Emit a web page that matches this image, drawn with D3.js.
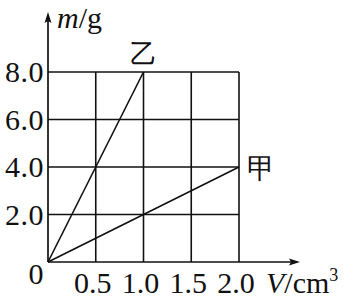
<!DOCTYPE html>
<html>
<head>
<meta charset="utf-8">
<script src="https://cdn.jsdelivr.net/npm/d3@7"></script>
<style>
  body { margin: 0; background: #fff; }
  text { font-family: "Liberation Serif", "Times New Roman", serif; fill: #111; }
</style>
</head>
<body>
<svg id="chart" width="350" height="299"></svg>
<script>
// chart data
var xTicks = [0.5, 1.0, 1.5, 2.0];
var yTicks = [2, 4, 6, 8];
var xTickLabels = ['0.5', '1.0', '1.5', '2.0'];
var yTickLabels = ['2.0', '4.0', '6.0', '8.0'];
var seriesNames = ['甲', '乙'];
var jia = [[0, 0], [2.0, 4.0]];   // V (cm3), m (g)
var yi = [[0, 0], [1.0, 8.0]];

(function () {
  'use strict';
  var svg = d3.select('#chart');
  var x = d3.scaleLinear().domain([0, 2]).range([48, 239]);
  var y = d3.scaleLinear().domain([0, 8]).range([262, 72]);
  var ink = '#111';

  // grid
  svg.selectAll('line.vg').data(xTicks).enter().append('line')
    .attr('x1', function (d) { return x(d); })
    .attr('x2', function (d) { return x(d); })
    .attr('y1', y(0)).attr('y2', y(8))
    .attr('stroke', ink).attr('stroke-width', 1.6);
  svg.selectAll('line.hg').data(yTicks).enter().append('line')
    .attr('y1', function (d) { return y(d); })
    .attr('y2', function (d) { return y(d); })
    .attr('x1', x(0)).attr('x2', x(2))
    .attr('stroke', ink).attr('stroke-width', 1.6);

  // axes with arrows
  svg.append('line').attr('x1', x(0)).attr('x2', x(0))
    .attr('y1', y(0)).attr('y2', 16).attr('stroke', ink).attr('stroke-width', 1.7);
  svg.append('path').attr('d', 'M' + x(0) + ',12 l-3.5,11 l3.5,-2 l3.5,2 z').attr('fill', ink);
  svg.append('line').attr('x1', x(0)).attr('x2', 296)
    .attr('y1', y(0)).attr('y2', y(0)).attr('stroke', ink).attr('stroke-width', 1.7);
  svg.append('path').attr('d', 'M300,' + y(0) + ' l-11,-3.5 l2,3.5 l-2,3.5 z').attr('fill', ink);

  // lines
  var line = d3.line().x(function (d) { return x(d[0]); }).y(function (d) { return y(d[1]); });
  [jia, yi].forEach(function (s) {
    svg.append('path').attr('d', line(s)).attr('fill', 'none')
      .attr('stroke', ink).attr('stroke-width', 1.6);
  });

  // tick labels
  svg.selectAll('text.yt').data(yTicks).enter().append('text')
    .attr('x', 44).attr('y', function (d) { return y(d) + 10; })
    .attr('text-anchor', 'end').attr('font-size', 30).attr('letter-spacing', 0.5)
    .text(function (d, i) { return yTickLabels[i]; });
  svg.selectAll('text.xt').data(xTicks).enter().append('text')
    .attr('x', function (d) { return x(d) - 3; }).attr('y', 293)
    .attr('text-anchor', 'middle').attr('font-size', 30)
    .text(function (d, i) { return xTickLabels[i]; });
  svg.append('text').attr('x', 36).attr('y', 284).attr('text-anchor', 'middle')
    .attr('font-size', 30).text('0');

  // axis titles
  var mt = svg.append('text').attr('x', 57).attr('y', 28).attr('font-size', 30);
  mt.append('tspan').attr('font-style', 'italic').text('m');
  mt.append('tspan').text('/g');
  var vt = svg.append('text').attr('x', 266).attr('y', 293).attr('font-size', 30);
  vt.append('tspan').attr('font-style', 'italic').text('V');
  vt.append('tspan').text('/cm');
  vt.append('tspan').attr('font-size', 18).attr('dy', -12).text('3');

  // series names
  svg.append('text').attr('x', x(2) + 8).attr('y', y(4) + 11)
    .attr('font-family', 'Noto Sans CJK SC').attr('font-weight', 300)
    .attr('font-size', 28).text(seriesNames[0]);
  svg.append('text').attr('x', x(1) - 14).attr('y', 63)
    .attr('font-family', 'Noto Sans CJK SC').attr('font-weight', 300)
    .attr('font-size', 27).text(seriesNames[1]);
})();
</script>
</body>
</html>
